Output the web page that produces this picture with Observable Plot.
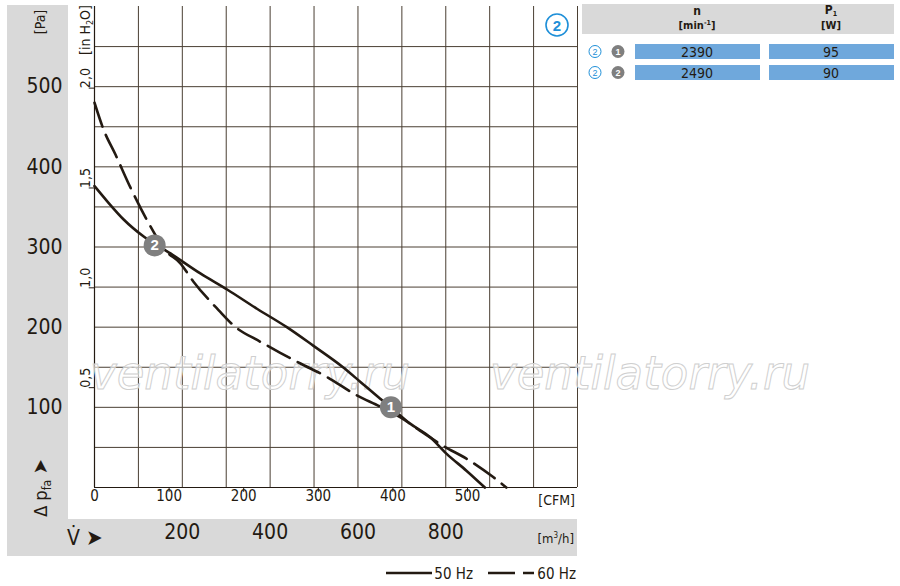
<!DOCTYPE html>
<html>
<head>
<meta charset="utf-8">
<script src="https://cdn.jsdelivr.net/npm/d3@7"></script>
<script src="https://cdn.jsdelivr.net/npm/@observablehq/plot@0.6"></script>
<style>
  html, body { margin: 0; padding: 0; background: #fff; }
  svg { display: block; }
</style>
</head>
<body>
<div id="chart"></div>
<script>
// ---- data ----
const flow50 = [0, 29, 67, 112, 173, 241, 302, 370, 438, 498, 566, 605, 650, 675, 718, 764, 802, 847, 889];
const pa50   = [376, 357, 334, 313, 292, 267, 247, 223, 200, 177, 150, 132, 111, 100, 80, 63, 42, 21, 0];
const flow60 = [0, 21, 48, 82, 123, 161, 195, 225, 283, 317, 377, 423, 468, 529, 597, 650, 695, 741, 794, 847, 908, 938];
const pa60   = [480, 446, 415, 374, 330, 296, 280, 257, 221, 202, 182, 168, 155, 138, 115, 101, 88, 71, 52, 36, 13, 0];
const pointFlow = [675, 137];
const pointPa = [100, 302];
const pointLabel = ["1", "2"];
const paTicks = [100, 200, 300, 400, 500];
const inTicks = [0.5, 1.0, 1.5, 2.0];
const cfmTicks = [0, 100, 200, 300, 400, 500];
const m3Ticks = [200, 400, 600, 800];
const gridX = [100, 200, 300, 400, 500, 600, 700, 800, 900, 1000, 1100];
const gridY = [50, 100, 150, 200, 250, 300, 350, 400, 450, 500, 550];
const tableN = [2390, 2490];
const tableP = [95, 90];
const tableRow = ["1", "2"];
const CFM = 1.699;    // m3/h per CFM
const INH2O = 249.09; // Pa per inch H2O

const series = [
  ...flow50.map((f, i) => ({flow: f, pa: pa50[i], s: "50 Hz"})),
  ...flow60.map((f, i) => ({flow: f, pa: pa60[i], s: "60 Hz"}))
];
const points = pointFlow.map((f, i) => ({flow: f, pa: pointPa[i], label: pointLabel[i]}));

const FONT = "'Liberation Sans Narrow', 'DejaVu Sans Condensed', 'Liberation Sans', sans-serif";
const INK = "#231a12";
const GRID = "#4a3f33";

const plot = Plot.plot({
  width: 900, height: 586,
  marginLeft: 94, marginRight: 323, marginTop: 6, marginBottom: 99,
  x: {domain: [0, 1100], axis: null},
  y: {domain: [0, 600], axis: null},
  style: {fontFamily: FONT, color: INK, background: "transparent", overflow: "visible"},
  marks: [
    Plot.ruleX(gridX, {stroke: GRID, strokeWidth: 1}),
    Plot.ruleY(gridY, {stroke: GRID, strokeWidth: 1}),
    Plot.ruleX([0], {stroke: INK, strokeWidth: 1.2}),
    Plot.ruleY([0], {stroke: INK, strokeWidth: 1.2}),
    // inch H2O ticks on the left
    Plot.ruleY(inTicks, {y: d => d * INH2O, x1: -12, x2: 0, stroke: INK}),
    Plot.text(inTicks, {y: d => d * INH2O, frameAnchor: "left", dx: -9, rotate: -90,
      text: d => d.toFixed(1).replace(".", ","), fontSize: 14, fill: INK}),
    // Pa labels
    Plot.text(paTicks, {y: d => d, frameAnchor: "left", dx: -32, textAnchor: "end",
      text: d => String(d), fontSize: 21, fill: INK}),
    // CFM ticks and labels
    Plot.ruleX(cfmTicks.slice(1), {x: d => d * CFM, y1: -6, y2: 0, stroke: INK}),
    Plot.text(cfmTicks, {x: d => d * CFM, frameAnchor: "bottom", dy: 13,
      text: d => String(d), fontSize: 15, fill: INK}),
    // m3/h labels
    Plot.text(m3Ticks, {x: d => d, frameAnchor: "bottom", dy: 51,
      text: d => String(d), fontSize: 21, fill: INK}),
    // curves
    Plot.line(series.filter(d => d.s === "50 Hz"), {x: "flow", y: "pa", stroke: INK,
      strokeWidth: 2.6, curve: "monotone-x"}),
    Plot.line(series.filter(d => d.s === "60 Hz"), {x: "flow", y: "pa", stroke: INK,
      strokeWidth: 2.6, curve: "monotone-x", strokeDasharray: "25,9"}),
    // operating points
    Plot.dot(points, {x: "flow", y: "pa", r: 11, fill: "#7f7f7f", stroke: "none"}),
    Plot.text(points, {x: "flow", y: "pa", text: "label", fill: "#fff", fontWeight: "bold",
      fontSize: 15, fontFamily: "'Liberation Sans', sans-serif"})
  ]
});

document.getElementById("chart").appendChild(plot);

// ---- decorations (panels, units, legend, table) ----
const svg = d3.select(plot);
const back = svg.insert("g", ":first-child");
back.append("rect").attr("x", 7).attr("y", 5).attr("width", 61).attr("height", 551).attr("fill", "#d9d9d9");
back.append("rect").attr("x", 7).attr("y", 519).attr("width", 570).attr("height", 37).attr("fill", "#d9d9d9");
back.append("rect").attr("x", 582).attr("y", 4).attr("width", 312).attr("height", 30).attr("fill", "#d9d9d9");

// watermark, placed under the curves
const firstLine = plot.querySelector("[aria-label='line']");
const wmNode = document.createElementNS("http://www.w3.org/2000/svg", "g");
plot.insertBefore(wmNode, firstLine);
const wm = d3.select(wmNode).attr("font-family", "'DejaVu Sans', sans-serif").attr("font-style", "italic")
  .attr("font-size", 46).attr("text-anchor", "start").attr("fill", "rgba(255,255,255,0.6)")
  .attr("stroke", "#cfcfcf").attr("stroke-width", 1);
[90, 490].forEach(x => {
  const t = wm.append("text").attr("x", 0).attr("y", 0).text("ventilatorry.ru");
  const len = t.node().getComputedTextLength() || 320;
  t.attr("transform", `translate(${x},389) scale(${320 / len},1)`);
});

const deco = svg.append("g").attr("font-family", FONT).attr("fill", INK).attr("text-anchor", "start");
// [Pa]
deco.append("text").attr("transform", "translate(45,22) rotate(-90)").attr("text-anchor", "middle")
  .attr("font-size", 14).text("[Pa]");
// [in H2O]
const inh = deco.append("text").attr("transform", "translate(90,30) rotate(-90)").attr("text-anchor", "middle")
  .attr("font-size", 14);
inh.append("tspan").text("[in H");
inh.append("tspan").attr("font-size", 9).attr("dy", 3).text("2");
inh.append("tspan").attr("dy", -3).text("O]");
// Δ p_fa ➤
const dp = deco.append("text").attr("transform", "translate(47,488) rotate(-90)").attr("text-anchor", "middle")
  .attr("font-size", 18);
dp.append("tspan").text("Δ p");
dp.append("tspan").attr("font-size", 12).attr("dy", 4).text("fa");
dp.append("tspan").attr("dy", -4).attr("font-size", 20).text(" ➤");
// V ➤
const vv = deco.append("text").attr("x", 67).attr("y", 545).attr("font-size", 21);
vv.append("tspan").text("V̇ ");
vv.append("tspan").attr("font-size", 22).text("➤");
// [CFM]
deco.append("text").attr("x", 575).attr("y", 505).attr("text-anchor", "end").attr("font-size", 14).text("[CFM]");
// [m3/h]
const mu = deco.append("text").attr("x", 574).attr("y", 543).attr("text-anchor", "end").attr("font-size", 13);
mu.append("tspan").text("[m");
mu.append("tspan").attr("font-size", 8).attr("dy", -5).text("3");
mu.append("tspan").attr("dy", 5).text("/h]");

// circled 2 in plot
svg.append("circle").attr("cx", 557).attr("cy", 25).attr("r", 11).attr("fill", "#fff")
  .attr("stroke", "#1e8fd8").attr("stroke-width", 1.6);
svg.append("text").attr("x", 557).attr("y", 30.5).attr("text-anchor", "middle").attr("font-size", 15)
  .attr("font-weight", "bold").attr("font-family", "'Liberation Sans', sans-serif").attr("fill", "#1e8fd8").text("2");

// legend
const lg = svg.append("g").attr("font-family", FONT).attr("fill", INK).attr("font-size", 15).attr("text-anchor", "end");
lg.append("line").attr("x1", 386).attr("x2", 432).attr("y1", 573).attr("y2", 573).attr("stroke", INK).attr("stroke-width", 2.6);
lg.append("text").attr("x", 473).attr("y", 579).text("50 Hz");
lg.append("line").attr("x1", 488).attr("x2", 534).attr("y1", 573).attr("y2", 573).attr("stroke", INK)
  .attr("stroke-width", 2.6).attr("stroke-dasharray", "27,8");
lg.append("text").attr("x", 576).attr("y", 579).text("60 Hz");

// table
const tb = svg.append("g").attr("font-family", FONT).attr("fill", INK).attr("text-anchor", "middle");
tb.append("text").attr("x", 697).attr("y", 15).attr("font-size", 12).attr("font-weight", "bold").text("n");
const mn = tb.append("text").attr("x", 697).attr("y", 29).attr("font-size", 11).attr("font-weight", "bold");
mn.append("tspan").text("[min");
mn.append("tspan").attr("font-size", 7).attr("dy", -4).text("-1");
mn.append("tspan").attr("dy", 4).text("]");
const p1 = tb.append("text").attr("x", 831).attr("y", 14).attr("font-size", 12).attr("font-weight", "bold");
p1.append("tspan").text("P");
p1.append("tspan").attr("font-size", 7).attr("dy", 2).text("1");
tb.append("text").attr("x", 831).attr("y", 29).attr("font-size", 11).attr("font-weight", "bold").text("[W]");

tableN.forEach((n, i) => {
  const y0 = i === 0 ? 44 : 65;
  const h = 15;
  const cy = y0 + h / 2;
  tb.append("rect").attr("x", 635).attr("y", y0).attr("width", 125).attr("height", h).attr("fill", "#6fa8dc");
  tb.append("rect").attr("x", 769).attr("y", y0).attr("width", 125).attr("height", h).attr("fill", "#6fa8dc");
  tb.append("text").attr("x", 697).attr("y", cy + 5).attr("font-size", 14).text(String(n));
  tb.append("text").attr("x", 831).attr("y", cy + 5).attr("font-size", 14).text(String(tableP[i]));
  tb.append("circle").attr("cx", 595).attr("cy", cy).attr("r", 6).attr("fill", "#fff").attr("stroke", "#1e8fd8").attr("stroke-width", 1);
  tb.append("text").attr("x", 595).attr("y", cy + 3.5).attr("font-size", 9)
    .attr("fill", "#1e8fd8").attr("font-family", "'Liberation Sans', sans-serif").text("2");
  tb.append("circle").attr("cx", 618).attr("cy", cy).attr("r", 6.5).attr("fill", "#7f7f7f");
  tb.append("text").attr("x", 618).attr("y", cy + 3.5).attr("font-size", 9)
    .attr("font-weight", "bold").attr("fill", "#fff").attr("font-family", "'Liberation Sans', sans-serif").text(tableRow[i]);
});
</script>
</body>
</html>
